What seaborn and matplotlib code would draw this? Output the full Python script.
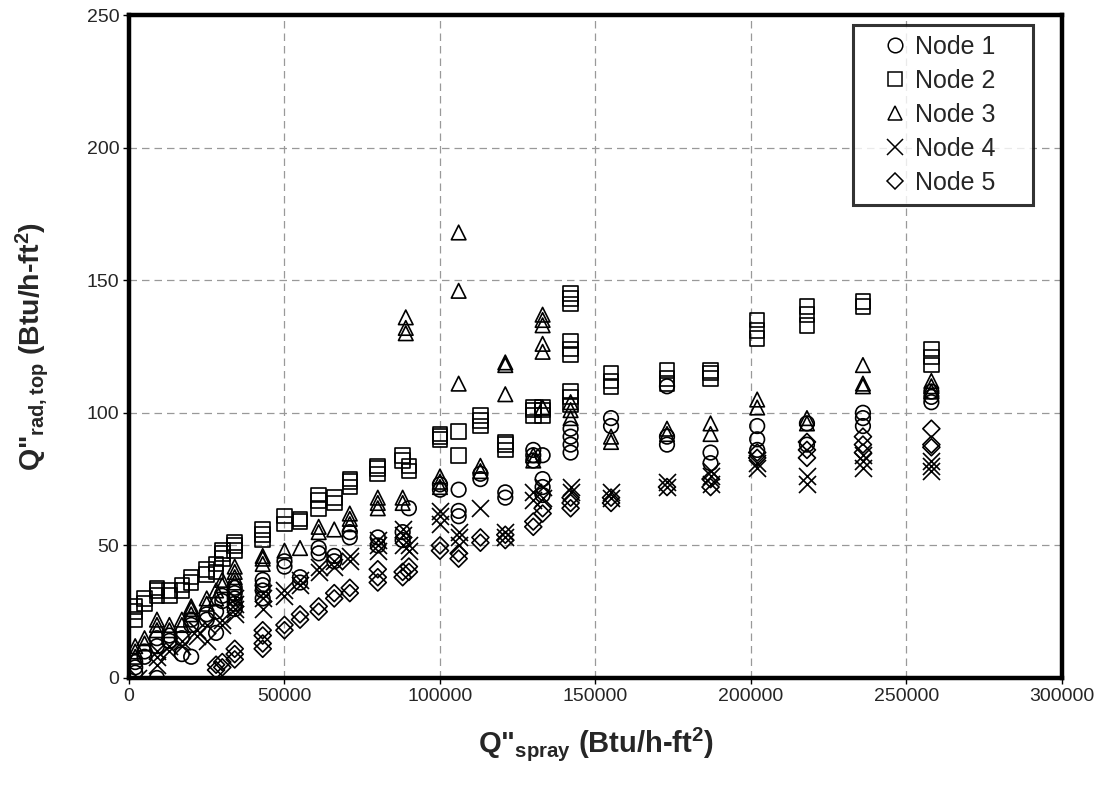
import matplotlib
matplotlib.use("Agg")
import matplotlib.pyplot as plt
from matplotlib.lines import Line2D
import seaborn as sns
import pandas as pd

sns.set_theme(style="white")
plt.rcParams['font.family'] = ['Liberation Sans', 'DejaVu Sans']
plt.rcParams['mathtext.fontset'] = 'custom'
plt.rcParams['mathtext.rm'] = 'Liberation Sans'
plt.rcParams['mathtext.bf'] = 'Liberation Sans:bold'
plt.rcParams['mathtext.default'] = 'bf'

# spray heat flux (x) and top radiative heat flux (y) for each node
node1_x = [2000, 2000, 2000, 5000, 5000, 9000, 9000, 9000, 13000, 13000, 17000, 17000,
           20000, 20000, 20000, 25000, 25000, 28000, 28000, 30000, 30000,
           34000, 34000, 34000, 34000, 34000, 43000, 43000, 43000, 43000, 50000, 50000,
           55000, 55000, 61000, 61000, 66000, 66000, 71000, 71000, 80000, 80000, 88000, 88000,
           90000, 100000, 100000, 106000, 106000, 106000, 113000, 113000, 121000, 121000,
           130000, 130000, 130000, 133000, 133000, 133000, 133000, 142000, 142000, 142000, 142000,
           155000, 155000, 173000, 173000, 173000, 187000, 187000, 202000, 202000, 202000,
           218000, 218000, 236000, 236000, 236000, 258000, 258000, 258000]
node1_y = [2, 4, 6, 8, 10, 0, 12, 15, 14, 16, 9, 15,
           8, 20, 22, 22, 24, 17, 25, 29, 31,
           26, 28, 30, 32, 34, 30, 33, 35, 37, 42, 44,
           36, 38, 47, 49, 44, 46, 53, 55, 50, 53, 52, 55,
           64, 71, 73, 61, 63, 71, 75, 77, 68, 70,
           82, 84, 86, 69, 72, 75, 84, 85, 88, 91, 94,
           95, 98, 88, 91, 110, 81, 85, 86, 90, 95,
           88, 96, 95, 98, 100, 104, 106, 108]

node2_x = [2000, 2000, 2000, 5000, 5000, 9000, 9000, 9000, 13000, 13000, 17000, 17000,
           20000, 20000, 25000, 25000, 28000, 28000, 30000, 30000, 30000, 34000, 34000, 34000,
           43000, 43000, 43000, 50000, 50000, 55000, 55000, 61000, 61000, 61000, 66000, 66000,
           71000, 71000, 71000, 80000, 80000, 80000, 88000, 88000, 90000, 90000,
           100000, 100000, 100000, 106000, 106000, 113000, 113000, 113000, 121000, 121000, 121000,
           130000, 130000, 130000, 133000, 133000, 133000,
           142000, 142000, 142000, 142000, 142000, 142000, 142000, 142000, 142000,
           155000, 155000, 155000, 173000, 173000, 173000, 187000, 187000, 187000,
           202000, 202000, 202000, 218000, 218000, 218000, 236000, 236000, 258000, 258000, 258000]
node2_y = [22, 25, 27, 28, 30, 31, 33, 34, 31, 33, 33, 35,
           36, 38, 39, 41, 40, 43, 45, 47, 48, 48, 50, 51,
           52, 54, 56, 58, 61, 59, 60, 64, 67, 69, 66, 68,
           72, 74, 75, 77, 79, 80, 82, 84, 78, 80,
           90, 91, 92, 84, 93, 95, 97, 99, 86, 88, 89,
           99, 101, 102, 99, 101, 102,
           103, 106, 108, 122, 124, 127, 141, 143, 145,
           110, 112, 115, 111, 113, 116, 113, 115, 116,
           128, 131, 135, 133, 137, 140, 140, 142, 118, 121, 124]

node3_x = [2000, 2000, 2000, 5000, 5000, 9000, 9000, 9000, 13000, 13000, 17000, 17000,
           20000, 20000, 20000, 25000, 25000, 28000, 28000, 30000, 30000,
           34000, 34000, 34000, 34000, 43000, 43000, 43000, 50000, 55000, 61000, 61000, 66000,
           71000, 71000, 71000, 80000, 80000, 80000, 88000, 88000, 89000, 89000, 89000,
           100000, 100000, 100000, 106000, 106000, 106000, 113000, 113000,
           121000, 121000, 121000, 130000, 130000,
           133000, 133000, 133000, 133000, 133000, 133000, 142000, 142000, 142000,
           155000, 155000, 173000, 173000, 187000, 187000, 202000, 202000, 218000, 218000,
           236000, 236000, 236000, 258000, 258000, 258000]
node3_y = [8, 10, 12, 13, 15, 18, 20, 22, 18, 20, 20, 22,
           24, 26, 27, 28, 30, 30, 33, 35, 37,
           36, 38, 40, 42, 43, 45, 46, 48, 49, 55, 57, 56,
           58, 60, 62, 64, 66, 68, 66, 68, 130, 132, 136,
           72, 74, 76, 111, 146, 168, 78, 80,
           107, 118, 119, 82, 84,
           102, 123, 126, 133, 135, 137, 98, 101, 104,
           89, 91, 92, 94, 92, 96, 102, 105, 96, 98,
           110, 111, 118, 108, 110, 112]

node4_x = [3000, 9000, 9000, 9000, 13000, 13000, 17000, 17000, 22000, 22000, 25000, 25000,
           30000, 30000, 34000, 34000, 34000, 34000, 43000, 43000, 43000, 50000, 50000,
           55000, 55000, 61000, 61000, 66000, 66000, 71000, 71000, 80000, 80000, 80000,
           88000, 88000, 88000, 90000, 90000, 100000, 100000, 100000, 106000, 106000, 106000,
           113000, 121000, 121000, 130000, 130000, 133000, 133000, 142000, 142000,
           155000, 155000, 173000, 173000, 187000, 187000, 187000, 202000, 202000,
           218000, 218000, 236000, 236000, 236000, 258000, 258000, 258000]
node4_y = [0, 5, 8, 10, 10, 12, 12, 14, 16, 18, 14, 20,
           20, 22, 24, 26, 28, 30, 26, 30, 32, 31, 33,
           35, 37, 40, 42, 42, 44, 44, 46, 48, 50, 52,
           50, 54, 56, 48, 50, 58, 61, 63, 50, 53, 55,
           64, 53, 55, 67, 70, 68, 72, 70, 72,
           68, 70, 72, 74, 73, 76, 78, 79, 81,
           73, 76, 79, 82, 84, 78, 80, 82]

node5_x = [28000, 28000, 30000, 30000, 34000, 34000, 34000, 43000, 43000, 43000, 43000,
           50000, 50000, 55000, 55000, 61000, 61000, 66000, 66000, 71000, 71000,
           80000, 80000, 80000, 88000, 88000, 90000, 90000, 100000, 100000, 106000, 106000,
           113000, 113000, 121000, 121000, 130000, 130000, 133000, 133000,
           142000, 142000, 142000, 155000, 155000, 173000, 187000, 187000, 202000, 202000,
           218000, 218000, 218000, 236000, 236000, 236000, 258000, 258000, 258000]
node5_y = [3, 5, 4, 6, 7, 9, 11, 11, 13, 16, 18,
           18, 20, 22, 24, 25, 27, 30, 32, 32, 34,
           36, 38, 41, 38, 40, 40, 42, 48, 50, 45, 47,
           51, 53, 52, 54, 57, 59, 62, 64,
           64, 66, 68, 66, 68, 72, 72, 75, 83, 85,
           83, 86, 89, 85, 88, 91, 87, 88, 94]

node_names = ['Node 1', 'Node 2', 'Node 3', 'Node 4', 'Node 5']
node_markers = ['o', 's', '^', 'x', 'D']

frames = []
for name, xs, ys in zip(node_names,
                        [node1_x, node2_x, node3_x, node4_x, node5_x],
                        [node1_y, node2_y, node3_y, node4_y, node5_y]):
    frames.append(pd.DataFrame({'spray': xs, 'rad': ys, 'node': name}))
df = pd.concat(frames, ignore_index=True)

fig = plt.figure(figsize=(11.09, 7.95), dpi=100)
ax = fig.add_axes([0.1163, 0.1472, 0.8413, 0.8339])

sizes = {'o': 110, 's': 110, '^': 110, 'x': 150, 'D': 75}
for name, mk in zip(node_names, node_markers):
    sub = df[df['node'] == name]
    sns.scatterplot(data=sub, x='spray', y='rad', marker=mk, s=sizes[mk],
                    color='black', linewidth=1.2, ax=ax, legend=False)

for coll, mk in zip(ax.collections, node_markers):
    if mk != 'x':
        coll.set_facecolor('none')
    coll.set_edgecolor('black')
    coll.set_linewidth(1.2)

ax.set_xlim(0, 300000)
ax.set_ylim(0, 250)
ax.set_xticks(range(0, 300001, 50000))
ax.set_yticks(range(0, 251, 50))
ax.grid(True, color='#999999', linestyle=(0, (6, 4)), linewidth=0.9)
ax.set_axisbelow(True)

for sp in ax.spines.values():
    sp.set_color('black')
    sp.set_linewidth(3.2)

ax.tick_params(axis='both', direction='out', length=4, width=1, color='black',
               labelsize=14, pad=3, bottom=True, left=True)

ax.set_xlabel('Q"$_{spray}$ (Btu/h-ft$^{2}$)', fontsize=21, fontweight='bold', va='center')
ax.set_ylabel('Q"$_{rad,top}$ (Btu/h-ft$^{2}$)', fontsize=20.5, fontweight='bold', va='center')
ax.xaxis.set_label_coords(0.5, -0.1)
ax.yaxis.set_label_coords(-0.104, 0.5)

handles = [Line2D([], [], linestyle='none', marker=mk, markerfacecolor='none',
                  markeredgecolor='black', markersize=ms, markeredgewidth=1.1)
           for mk, ms in zip(node_markers, [10.5, 10.5, 10.5, 12, 8])]
labels = [n + '    ' for n in node_names]
leg = ax.legend(handles, labels, loc='upper right', fontsize=18, frameon=True,
                fancybox=False, handletextpad=-0.5, handlelength=2.56,
                borderpad=0.4, labelspacing=0.4, borderaxespad=0,
                bbox_to_anchor=(0.969, 0.985))
leg.get_frame().set_edgecolor('black')
leg.get_frame().set_linewidth(2.2)

fig.savefig('out.png', dpi=100)
